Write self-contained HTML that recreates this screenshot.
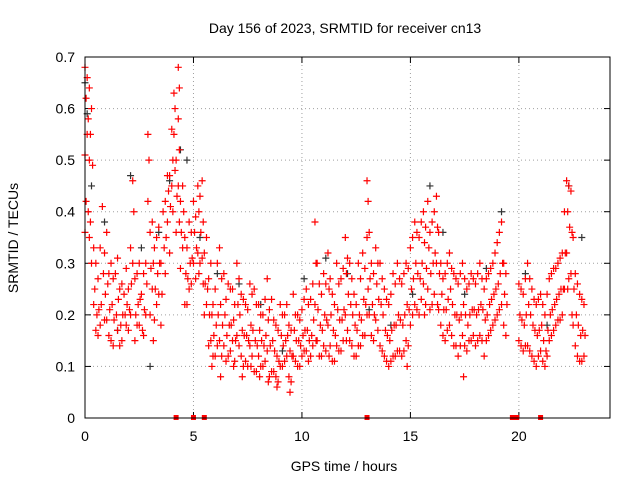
<!DOCTYPE html>
<html><head><meta charset="utf-8"><style>
body{margin:0;background:#fff}
svg text{font-family:"Liberation Sans",sans-serif;font-size:14px;fill:#000}
</style></head><body>
<svg id="chart" width="640" height="480" viewBox="0 0 640 480">
<text x="345" y="33" text-anchor="middle">Day 156 of 2023, SRMTID for receiver cn13</text>
<text x="344" y="471" text-anchor="middle">GPS time / hours</text>
<text transform="translate(18,238) rotate(-90)" text-anchor="middle">SRMTID / TECUs</text>
<g id="grid"></g><g id="ticks"></g><g id="black"></g><g id="red"></g>
<rect x="85" y="57" width="525" height="361" fill="none" stroke="#000" stroke-width="1"/>
</svg>
<script>
const xTicks=[0,5,10,15,20];
const yTicks=[0,0.1,0.2,0.3,0.4,0.5,0.6,0.7];
const yTickLabels=["0","0.1","0.2","0.3","0.4","0.5","0.6","0.7"];
const redTimes=[0.0,0.1,0.2,0.3,0.4,0.5,0.7,0.8,1.0,1.2,1.4,1.6,1.8,2.0,2.2,2.4,2.6,2.8,2.9,3.1,3.3,3.5,3.6,3.8,4.0,4.1,4.3,4.5,4.6,4.8,5.0,5.2,5.4,5.6,5.8,6.0,6.2,6.4,6.6,6.8,7.0,7.2,7.4,7.6,7.8,8.0,8.2,8.4,8.6,8.8,9.0,9.2,9.4,9.6,9.8,10.0,10.2,10.4,10.6,10.8,11.0,11.2,11.4,11.6,11.8,12.0,12.2,12.4,12.6,12.8,13.0,13.2,13.4,13.6,13.8,14.0,14.2,14.4,14.6,14.8,15.0,15.2,15.4,15.6,15.8,16.0,16.2,16.4,16.6,16.8,17.0,17.2,17.4,17.6,17.8,18.0,18.2,18.4,18.6,18.8,19.0,19.2,19.4,20.0,20.2,20.4,20.6,20.8,21.0,21.2,21.4,21.6,21.8,22.0,22.2,22.4,22.6,22.8,23.0];
const redValues=[[0.68,0.62,0.51,0.42,0.36],[0.66,0.58,0.55,0.40],[0.64,0.55,0.50,0.38,0.35],[0.60,0.49,0.30],[0.33,0.25,0.22],[0.30,0.20,0.17],[0.33,0.22,0.18],[0.41,0.28],[0.36,0.26,0.19],[0.30,0.22,0.15],[0.28,0.20],[0.25,0.18,0.14],[0.24,0.20],[0.25,0.21,0.17],[0.46,0.40,0.30],[0.28,0.22,0.18],[0.24,0.17],[0.30,0.26,0.20],[0.55,0.50,0.42],[0.38,0.30,0.25,0.15],[0.35,0.28,0.22],[0.30,0.24,0.18],[0.40,0.33],[0.47,0.44,0.38],[0.56,0.50,0.45,0.40],[0.63,0.60,0.55,0.48],[0.68,0.64,0.58,0.52,0.45,0.38],[0.45,0.40,0.33],[0.35,0.28,0.22],[0.38,0.30,0.25],[0.42,0.36,0.30],[0.45,0.40,0.32,0.28],[0.46,0.38,0.31,0.26],[0.35,0.25,0.22],[0.30,0.20,0.15,0.10],[0.25,0.18,0.12],[0.33,0.22,0.15,0.08],[0.28,0.20,0.14],[0.26,0.18,0.12],[0.25,0.19,0.15,0.10],[0.30,0.22,0.16],[0.24,0.17,0.12,0.08],[0.22,0.16,0.11],[0.26,0.18,0.14,0.10],[0.25,0.15,0.09],[0.22,0.17,0.12,0.08],[0.20,0.14,0.10],[0.27,0.19,0.13,0.07],[0.23,0.15,0.09],[0.18,0.12,0.08,0.06],[0.22,0.16,0.10],[0.20,0.15,0.11],[0.18,0.13,0.08,0.05],[0.24,0.17,0.12],[0.20,0.15,0.10],[0.21,0.16,0.12],[0.25,0.17,0.13],[0.23,0.16,0.12],[0.38,0.30,0.22,0.15],[0.26,0.18,0.12],[0.28,0.20,0.14],[0.32,0.25,0.18,0.12],[0.24,0.17,0.11],[0.30,0.21,0.14],[0.27,0.19,0.13],[0.35,0.28,0.20,0.15],[0.30,0.22,0.15],[0.24,0.18,0.12],[0.30,0.20,0.14],[0.32,0.23,0.16],[0.46,0.42,0.35,0.25,0.20],[0.30,0.22,0.16],[0.33,0.26,0.19],[0.30,0.22,0.14],[0.25,0.17,0.12],[0.22,0.15,0.10],[0.28,0.18,0.12],[0.30,0.20,0.13],[0.26,0.18,0.12],[0.30,0.22,0.15,0.10],[0.33,0.25,0.18],[0.38,0.30,0.22],[0.35,0.27,0.20],[0.40,0.34,0.26,0.20],[0.42,0.33,0.25],[0.38,0.30,0.22],[0.43,0.37,0.30,0.22],[0.30,0.24,0.18],[0.28,0.21,0.15],[0.32,0.25,0.18],[0.28,0.20,0.14],[0.26,0.19,0.12],[0.30,0.22,0.16,0.08],[0.25,0.18,0.13],[0.28,0.21,0.15],[0.26,0.20,0.14],[0.30,0.22,0.16],[0.25,0.19,0.12],[0.28,0.22,0.16],[0.30,0.24,0.18],[0.34,0.26,0.20],[0.38,0.30,0.22],[0.28,0.22,0.16],[0.26,0.20,0.15],[0.24,0.18,0.13],[0.30,0.22,0.14],[0.25,0.18,0.12],[0.22,0.16,0.10],[0.24,0.18,0.13],[0.20,0.13,0.10],[0.27,0.20,0.15],[0.29,0.22,0.17],[0.30,0.24,0.19],[0.32,0.25,0.20],[0.46,0.40,0.32,0.25],[0.44,0.36,0.28,0.20],[0.28,0.20,0.14],[0.24,0.16,0.11],[0.22,0.16,0.12]];
const redTimes2=[0.6,0.9,1.1,1.3,1.5,1.7,1.9,2.1,2.3,2.5,2.7,3.0,3.2,3.4,3.7,3.9,4.2,4.4,4.7,4.9,5.1,5.3,5.5,5.7,5.9,6.1,6.3,6.5,6.7,6.9,7.1,7.3,7.5,7.7,7.9,8.1,8.3,8.5,8.7,8.9,9.1,9.3,9.5,9.7,9.9,10.1,10.3,10.5,10.7,10.9,11.1,11.3,11.5,11.7,11.9,12.1,12.3,12.5,12.7,12.9,13.1,13.3,13.5,13.7,13.9,14.1,14.3,14.5,14.7,14.9,15.1,15.3,15.5,15.7,15.9,16.1,16.3,16.5,16.7,16.9,17.1,17.3,17.5,17.7,17.9,18.1,18.3,18.5,18.7,18.9,19.1,19.3,20.1,20.3,20.5,20.7,20.9,21.1,21.3,21.5,21.7,21.9,22.1,22.3,22.5,22.7,22.9];
const redValues2=[[0.27,0.21,0.16],[0.32,0.24,0.19],[0.28,0.21,0.16],[0.27,0.19,0.14],[0.31,0.23,0.17],[0.26,0.2,0.15],[0.29,0.22,0.18],[0.33,0.26,0.2],[0.27,0.2,0.15],[0.3,0.23,0.18],[0.28,0.21,0.16],[0.36,0.29,0.2],[0.33,0.25,0.19],[0.37,0.3,0.24],[0.42,0.35,0.28],[0.47,0.41,0.32],[0.5,0.43,0.36],[0.42,0.36,0.29],[0.33,0.27,0.22],[0.36,0.31,0.26],[0.39,0.33,0.27],[0.43,0.36,0.3],[0.32,0.26,0.2],[0.27,0.2,0.14],[0.22,0.16,0.12],[0.3,0.2,0.14],[0.27,0.18,0.12],[0.23,0.16,0.11],[0.25,0.18,0.13],[0.22,0.15,0.11],[0.27,0.2,0.14],[0.23,0.16,0.1],[0.21,0.15,0.1],[0.24,0.17,0.12],[0.22,0.14,0.09],[0.2,0.15,0.1],[0.23,0.16,0.11],[0.21,0.14,0.08],[0.19,0.13,0.09],[0.17,0.11,0.07],[0.2,0.14,0.1],[0.22,0.16,0.12],[0.17,0.12,0.07],[0.2,0.15,0.11],[0.19,0.14,0.1],[0.23,0.17,0.13],[0.22,0.15,0.11],[0.26,0.19,0.14],[0.3,0.21,0.15],[0.24,0.17,0.12],[0.26,0.19,0.13],[0.27,0.2,0.14],[0.22,0.16,0.11],[0.26,0.19,0.13],[0.29,0.21,0.15],[0.31,0.24,0.17],[0.27,0.2,0.14],[0.22,0.17,0.12],[0.27,0.19,0.14],[0.29,0.22,0.16],[0.36,0.27,0.2],[0.28,0.2,0.15],[0.3,0.23,0.17],[0.27,0.2,0.13],[0.23,0.16,0.11],[0.24,0.17,0.11],[0.26,0.18,0.12],[0.27,0.19,0.13],[0.28,0.2,0.13],[0.29,0.21,0.14],[0.35,0.27,0.2],[0.36,0.28,0.21],[0.38,0.3,0.23],[0.37,0.29,0.22],[0.36,0.28,0.21],[0.4,0.32,0.24],[0.36,0.28,0.21],[0.27,0.21,0.16],[0.3,0.23,0.17],[0.29,0.22,0.16],[0.27,0.2,0.14],[0.28,0.2,0.14],[0.27,0.2,0.14],[0.26,0.2,0.15],[0.27,0.21,0.16],[0.28,0.21,0.15],[0.27,0.21,0.15],[0.27,0.2,0.15],[0.29,0.23,0.17],[0.32,0.25,0.19],[0.36,0.28,0.21],[0.3,0.24,0.18],[0.25,0.19,0.14],[0.27,0.2,0.14],[0.27,0.2,0.13],[0.23,0.17,0.11],[0.23,0.17,0.12],[0.22,0.15,0.11],[0.24,0.17,0.12],[0.28,0.21,0.16],[0.29,0.23,0.18],[0.31,0.25,0.19],[0.4,0.32,0.25],[0.45,0.37,0.27],[0.35,0.25,0.18],[0.26,0.18,0.12],[0.23,0.17,0.11]];
const blackTimes=[0.0,0.1,0.3,0.9,1.5,2.1,2.6,3.0,3.4,3.9,4.4,4.7,5.3,6.1,7.1,8.1,9.1,10.1,11.1,12.1,13.1,14.1,15.1,15.9,16.5,17.5,18.5,19.2,20.3,21.3,22.3,22.9];
const blackValues=[0.65,0.59,0.45,0.38,0.17,0.47,0.33,0.10,0.36,0.46,0.52,0.50,0.35,0.28,0.26,0.22,0.13,0.27,0.31,0.28,0.21,0.18,0.24,0.45,0.36,0.24,0.29,0.40,0.28,0.18,0.45,0.35];
const zeroTimes=[4.2,5.0,5.5,13.0,19.7,19.9,21.0];

const L=85,R=610,T=57,B=418,XMAX=24.2,YMAX=0.7;
const xs=v=>L+v/XMAX*(R-L), ys=v=>B-v/YMAX*(B-T);
const NS="http://www.w3.org/2000/svg";
function mk(tag,attrs,parent){const e=document.createElementNS(NS,tag);for(const k in attrs)e.setAttribute(k,attrs[k]);parent.appendChild(e);return e;}
const grid=document.getElementById('grid'),ticks=document.getElementById('ticks');
xTicks.forEach(t=>{const x=xs(t);
 const g=mk('line',{x1:x,x2:x,y1:T,y2:B,stroke:'#a0a0a0','stroke-dasharray':'1,3'},grid);
 
 
 mk('line',{x1:x,x2:x,y1:B,y2:B-6,stroke:'#000'},ticks);
 mk('line',{x1:x,x2:x,y1:T,y2:T+6,stroke:'#000'},ticks);
 const tx=mk('text',{x:x,y:B+23,'text-anchor':'middle'},ticks);tx.textContent=t;
 
 
});
yTicks.forEach((t,i)=>{const y=ys(t);
 const g=mk('line',{x1:L,x2:R,y1:y,y2:y,stroke:'#a0a0a0','stroke-dasharray':'1,3'},grid);
 
 
 mk('line',{x1:L,x2:L+6,y1:y,y2:y,stroke:'#000'},ticks);
 mk('line',{x1:R,x2:R-6,y1:y,y2:y,stroke:'#000'},ticks);
 const tx=mk('text',{x:L-10,y:y+5,'text-anchor':'end'},ticks);tx.textContent=yTickLabels[i];
 
 
});
function plus(g,x,y,c,name){const p=mk('path',{d:`M${x-3.5},${y}h7M${x},${y-3.5}v7`,stroke:c,'stroke-width':1.2,fill:'none'},g);
 
 }
const bg=document.getElementById('black'),rg=document.getElementById('red');
blackTimes.forEach((t,i)=>plus(bg,xs(t),ys(blackValues[i]),'#333','black-point'));
redTimes.forEach((t,i)=>redValues[i].forEach((v,j)=>plus(rg,xs(t+0.05*(j%2)),ys(v),'#ff0000','red-point')));
redTimes2.forEach((t,i)=>redValues2[i].forEach((v,j)=>plus(rg,xs(t+0.04*(j%2)),ys(v),'#ff0000','red-point')));
zeroTimes.forEach(t=>{const r=mk('rect',{x:xs(t)-2.5,y:B-3,width:5,height:5,fill:'#ff0000'},rg);
 
 });
</script>
</body></html>
